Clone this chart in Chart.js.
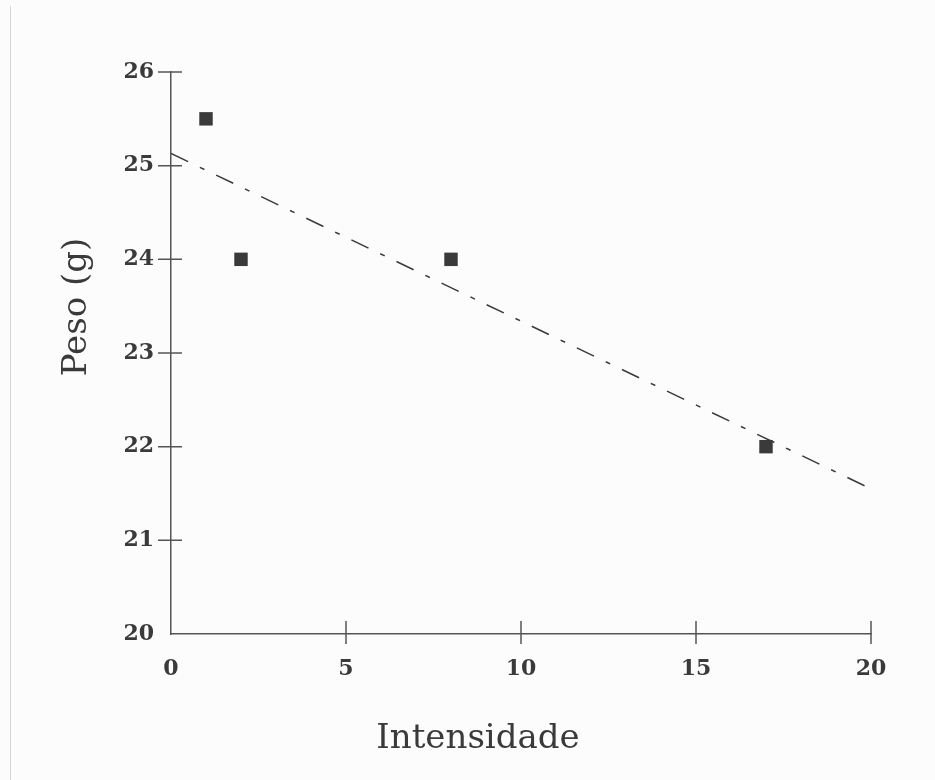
<!DOCTYPE html>
<html lang="pt">
<head>
    <meta charset="UTF-8">
    <title>Peso x Intensidade</title>
    <script src="https://cdn.jsdelivr.net/npm/chart.js"></script>
    <style>
        html, body { margin: 0; padding: 0; background: #fcfcfc; }
        #wrap { position: relative; width: 935px; height: 780px; }
        #edge { position: absolute; left: 10px; top: 6px; width: 1px; height: 774px; background: #d6d6d6; }
    </style>
</head>
<body>
<div id="wrap">
    <div id="edge"></div>
    <canvas id="pesoChart" width="935" height="780"></canvas>
</div>

<script>
    // observed points
    const intensidade = [1, 2, 8, 17];
    const peso = [25.5, 24, 24, 22];

    // fitted line, read at both ends of the x range
    const lineX = [0, 20];
    const lineY = [25.13, 21.55];

    const xTicks = [0, 5, 10, 15, 20];
    const yTicks = [20, 21, 22, 23, 24, 25, 26];

    const ink = '#3a3a3a';
    const axisColor = '#555555';

    // tick marks that cross the axis line, plus the axis titles
    const axisDecor = {
        id: 'axisDecor',
        afterDraw(chart) {
            const ctx = chart.ctx;
            const xs = chart.scales.x, ys = chart.scales.y;
            const x0 = xs.left, y0 = ys.bottom;
            ctx.save();
            ctx.strokeStyle = axisColor;
            ctx.lineWidth = 1.5;
            ctx.beginPath();
            xTicks.slice(1).forEach(v => {
                const px = xs.getPixelForValue(v);
                ctx.moveTo(px, y0 - 13);
                ctx.lineTo(px, y0 + 10);
            });
            yTicks.slice(1).forEach(v => {
                const py = ys.getPixelForValue(v);
                ctx.moveTo(x0 - 13, py);
                ctx.lineTo(x0 + 11, py);
            });
            ctx.stroke();

            ctx.fillStyle = ink;
            ctx.font = '34px "DejaVu Serif"';
            ctx.textAlign = 'center';
            ctx.textBaseline = 'alphabetic';
            ctx.fillText('Intensidade', 478, 748);

            ctx.translate(86, 307);
            ctx.rotate(-Math.PI / 2);
            ctx.fillText('Peso (g)', 0, 0);
            ctx.restore();
        }
    };

    const ctx = document.getElementById('pesoChart').getContext('2d');
    const pesoChart = new Chart(ctx, {
        type: 'scatter',
        data: {
            datasets: [{
                label: 'Peso',
                data: intensidade.map((x, i) => ({ x: x, y: peso[i] })),
                pointStyle: 'rect',
                pointRadius: 9.5,
                pointHoverRadius: 9.5,
                backgroundColor: ink,
                borderColor: ink,
                borderWidth: 0,
                showLine: false
            }, {
                label: 'Ajuste',
                type: 'line',
                data: lineX.map((x, i) => ({ x: x, y: lineY[i] })),
                borderColor: ink,
                borderWidth: 1.5,
                borderDash: [19, 13, 5, 13],
                pointRadius: 0,
                fill: false
            }]
        },
        options: {
            responsive: false,
            animation: false,
            layout: { padding: { left: 0, top: 72, right: 64, bottom: 0 } },
            plugins: {
                legend: { display: false },
                tooltip: { enabled: false }
            },
            scales: {
                x: {
                    type: 'linear',
                    min: 0,
                    max: 20,
                    afterFit: s => { s.height = 146; },
                    afterBuildTicks: s => { s.ticks = xTicks.map(v => ({ value: v })); },
                    grid: { drawOnChartArea: false, drawTicks: false },
                    border: { display: true, color: axisColor, width: 1.5 },
                    ticks: {
                        padding: 22,
                        color: ink,
                        font: { family: 'DejaVu Serif', size: 22, weight: 'bold' }
                    }
                },
                y: {
                    type: 'linear',
                    min: 20,
                    max: 26,
                    afterFit: s => { s.width = 171; },
                    afterBuildTicks: s => { s.ticks = yTicks.map(v => ({ value: v })); },
                    grid: { drawOnChartArea: false, drawTicks: false },
                    border: { display: true, color: axisColor, width: 1.5 },
                    ticks: {
                        padding: 17,
                        color: ink,
                        font: { family: 'DejaVu Serif', size: 22, weight: 'bold' }
                    }
                }
            }
        },
        plugins: [axisDecor]
    });
</script>
</body>
</html>
